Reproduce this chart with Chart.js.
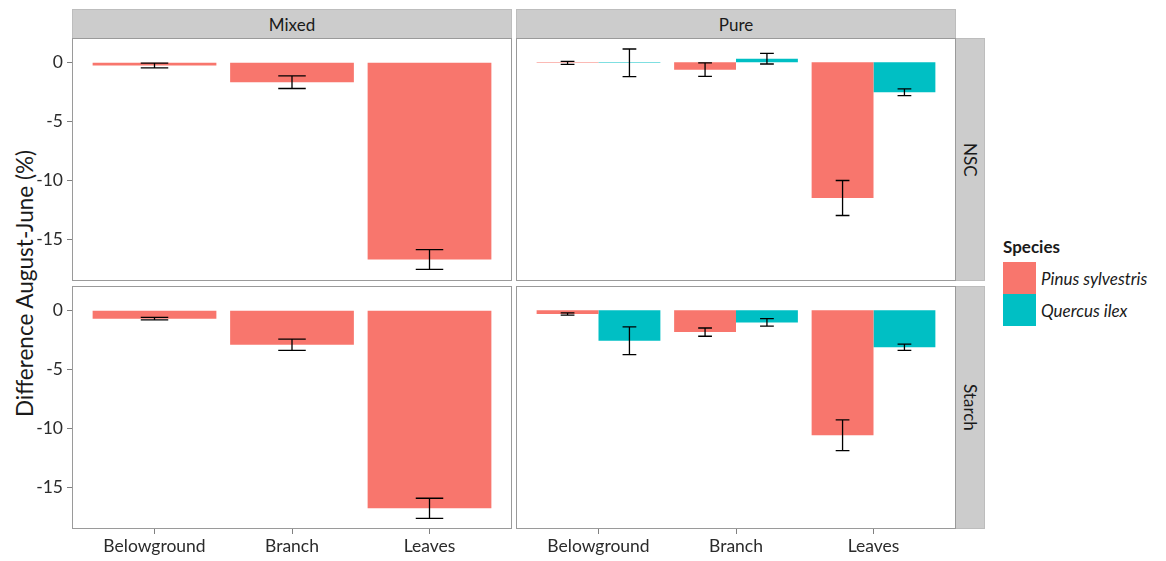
<!DOCTYPE html>
<html>
<head>
<meta charset="utf-8">
<title>Difference August-June</title>
<script src="https://cdn.jsdelivr.net/npm/chart.js@4.4.1/dist/chart.umd.min.js"></script>
<style>
  html, body { margin: 0; padding: 0; background: #fff; }
  body { position: relative; width: 1166px; height: 561px; overflow: hidden; font-family: Lato, "Open Sans", sans-serif; color: #1a1a1a; }
  .abs { position: absolute; }
  .strip { position: absolute; box-sizing: border-box; background: #cccccc; border: 1px solid #bdbdbd;
           display: flex; align-items: center; justify-content: center; font-size: 17px; color: #1a1a1a; }
  .strip.side span { writing-mode: vertical-rl; }
  #ytitle { position: absolute; left: 10px; top: 140px; height: 288px; width: 28px; display: flex; align-items: center; justify-content: center; }
  #ytitle span { writing-mode: vertical-rl; transform: rotate(180deg); font-size: 22.5px; white-space: nowrap; color: #1a1a1a; }
  #legend { position: absolute; left: 1003px; top: 235px; }
  #legend .ttl { font-weight: bold; font-size: 17px; line-height: 24px; margin-bottom: 3px; }
  #legend .row { display: flex; align-items: center; height: 32px; }
  #legend .sw { width: 33px; height: 32px; margin-right: 5px; }
  #legend .lab { font-style: italic; font-size: 17px; }
</style>
</head>
<body>
<div class="strip" style="left:72px;top:9px;width:440px;height:30px;">Mixed</div>
<div class="strip" style="left:516px;top:9px;width:440px;height:30px;">Pure</div>
<div class="strip side" style="left:955px;top:38px;width:30px;height:243px;"><span>NSC</span></div>
<div class="strip side" style="left:955px;top:286px;width:30px;height:243px;"><span>Starch</span></div>
<div id="ytitle"><span>Difference August-June (%)</span></div>
<div id="legend"></div>

<div class="abs" style="left:0;top:38px;"><canvas id="mixedNsc" width="512" height="243"></canvas></div>
<div class="abs" style="left:516px;top:38px;"><canvas id="pureNsc" width="440" height="243"></canvas></div>
<div class="abs" style="left:0;top:286px;"><canvas id="mixedStarch" width="512" height="276"></canvas></div>
<div class="abs" style="left:516px;top:286px;"><canvas id="pureStarch" width="440" height="276"></canvas></div>

<script>
// Tissue categories and shared axis ticks
const categories = ['Belowground', 'Branch', 'Leaves'];
const yTicks = [0, -5, -10, -15];
const species = ['Pinus sylvestris', 'Quercus ilex'];
const speciesColors = ['#F8766D', '#00BFC4'];

// Mixed stands (Pinus sylvestris only): mean difference and standard error, %
const mixedNscPinus = [-0.28, -1.69, -16.68];
const mixedNscPinusSe = [0.20, 0.53, 0.83];
const mixedStarchPinus = [-0.71, -2.92, -16.75];
const mixedStarchPinusSe = [0.11, 0.47, 0.85];

// Pure stands
const pureNscPinus = [-0.05, -0.63, -11.48];
const pureNscPinusSe = [0.13, 0.57, 1.48];
const pureNscQuercus = [-0.05, 0.30, -2.54];
const pureNscQuercusSe = [1.17, 0.45, 0.28];
const pureStarchPinus = [-0.32, -1.85, -10.57];
const pureStarchPinusSe = [0.10, 0.35, 1.30];
const pureStarchQuercus = [-2.58, -1.03, -3.13];
const pureStarchQuercusSe = [1.17, 0.32, 0.26];

// Shared y range for all facets
const yMin = -18.5;
const yMax = 2.05;

const textColor = '#2b2b2b';
const tickFont = { family: 'Lato, "Open Sans", sans-serif', size: 17.5 };

// Thin grey frame around each facet's plotting area
const panelFrame = {
  id: 'panelFrame',
  afterDraw(chart) {
    const { ctx, chartArea: a } = chart;
    ctx.save();
    ctx.strokeStyle = '#9a9a9a';
    ctx.lineWidth = 1;
    ctx.strokeRect(a.left + 0.5, a.top + 0.5, a.right - a.left - 1, a.bottom - a.top - 1);
    ctx.restore();
  }
};

// Mean ± SE whiskers on top of every bar
const errorBars = {
  id: 'errorBars',
  afterDatasetsDraw(chart) {
    const { ctx } = chart;
    const yScale = chart.scales.y;
    ctx.save();
    ctx.strokeStyle = '#000';
    ctx.lineWidth = 1.3;
    chart.data.datasets.forEach((ds, di) => {
      const meta = chart.getDatasetMeta(di);
      meta.data.forEach((bar, i) => {
        const v = ds.data[i].y, se = ds.se[i];
        const half = bar.width / 9;
        const yHi = yScale.getPixelForValue(v + se);
        const yLo = yScale.getPixelForValue(v - se);
        ctx.beginPath();
        ctx.moveTo(bar.x - half, yHi); ctx.lineTo(bar.x + half, yHi);
        ctx.moveTo(bar.x, yHi); ctx.lineTo(bar.x, yLo);
        ctx.moveTo(bar.x - half, yLo); ctx.lineTo(bar.x + half, yLo);
        ctx.stroke();
      });
    });
    ctx.restore();
  }
};

function makeDataset(sp, values, se) {
  return {
    label: species[sp],
    data: values.map((v, i) => ({ x: i + 1, y: v })),
    se: se,
    backgroundColor: speciesColors[sp],
    borderWidth: 0,
    categoryPercentage: 0.9,
    barPercentage: 1.0
  };
}

// Fixed axis thickness, no extra room reserved for overhanging tick labels
function fixSize(prop, size) {
  return s => {
    s[prop] = size;
    s.paddingTop = 0; s.paddingBottom = 0; s.paddingLeft = 0; s.paddingRight = 0;
  };
}

function makePanel(canvasId, datasets, showY, showX) {
  return new Chart(document.getElementById(canvasId), {
    type: 'bar',
    data: { datasets },
    options: {
      responsive: false,
      animation: false,
      layout: { padding: 0 },
      plugins: { legend: { display: false }, tooltip: { enabled: false } },
      scales: {
        x: {
          type: 'linear',
          display: showX,
          min: 0.4,
          max: 3.6,
          offset: false,
          afterBuildTicks: s => { s.ticks = categories.map((c, i) => ({ value: i + 1 })); },
          afterFit: fixSize('height', showX ? 33 : 0),
          ticks: { callback: v => categories[v - 1], font: tickFont, color: textColor, padding: 2, maxRotation: 0, autoSkip: false },
          grid: { drawOnChartArea: false, offset: false, tickLength: 5, color: '#808080' },
          border: { display: false }
        },
        y: {
          display: showY,
          min: yMin,
          max: yMax,
          afterBuildTicks: s => { s.ticks = yTicks.map(v => ({ value: v })); },
          afterFit: fixSize('width', showY ? 72 : 0),
          ticks: { font: tickFont, color: textColor, padding: 4 },
          grid: { drawOnChartArea: false, tickLength: 5, color: '#808080' },
          border: { display: false }
        }
      }
    },
    plugins: [panelFrame, errorBars]
  });
}

makePanel('mixedNsc', [makeDataset(0, mixedNscPinus, mixedNscPinusSe)], true, false);
makePanel('pureNsc', [makeDataset(0, pureNscPinus, pureNscPinusSe), makeDataset(1, pureNscQuercus, pureNscQuercusSe)], false, false);
makePanel('mixedStarch', [makeDataset(0, mixedStarchPinus, mixedStarchPinusSe)], true, true);
makePanel('pureStarch', [makeDataset(0, pureStarchPinus, pureStarchPinusSe), makeDataset(1, pureStarchQuercus, pureStarchQuercusSe)], false, true);

// Species legend
const legend = document.getElementById('legend');
legend.innerHTML = '<div class="ttl">Species</div>' + species.map((s, i) =>
  `<div class="row"><div class="sw" style="background:${speciesColors[i]}"></div><span class="lab">${s}</span></div>`).join('');
</script>
</body>
</html>
